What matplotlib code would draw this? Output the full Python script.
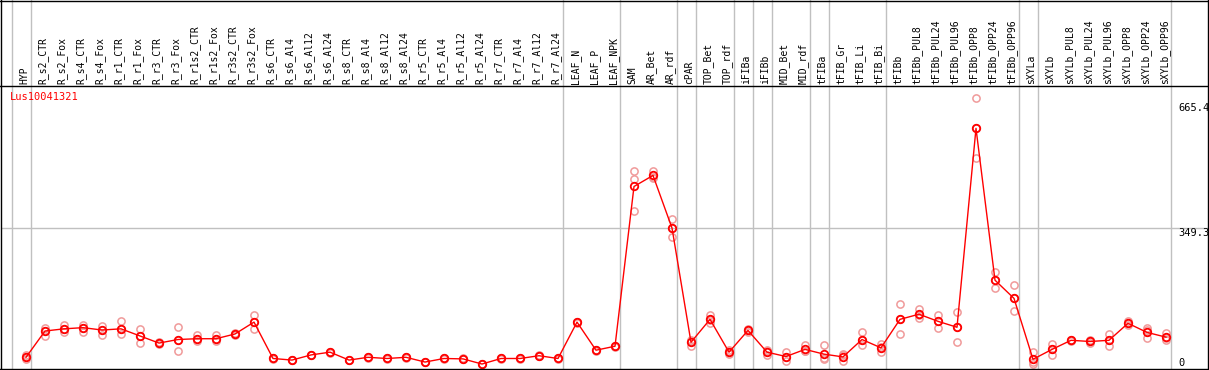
import matplotlib
matplotlib.use('Agg')
import matplotlib.pyplot as plt
from matplotlib.transforms import blended_transform_factory
from matplotlib.lines import Line2D

# ---------------- data ----------------
categories = ["HYP", "R_s2_CTR", "R_s2_Fox", "R_s4_CTR", "R_s4_Fox", "R_r1_CTR", "R_r1_Fox",
              "R_r3_CTR", "R_r3_Fox", "R_r1s2_CTR", "R_r1s2_Fox", "R_r3s2_CTR", "R_r3s2_Fox",
              "R_s6_CTR", "R_s6_Al4", "R_s6_Al12", "R_s6_Al24", "R_s8_CTR", "R_s8_Al4",
              "R_s8_Al12", "R_s8_Al24", "R_r5_CTR", "R_r5_Al4", "R_r5_Al12", "R_r5_Al24",
              "R_r7_CTR", "R_r7_Al4", "R_r7_Al12", "R_r7_Al24", "LEAF_N", "LEAF_P", "LEAF_NPK",
              "SAM", "AR_Bet", "AR_rdf", "cPAR", "TOP_Bet", "TOP_rdf", "iFIBa", "iFIBb",
              "MID_Bet", "MID_rdf", "tFIBa", "tFIB_Gr", "tFIB_Li", "tFIB_Bi", "tFIBb",
              "tFIBb_PUL8", "tFIBb_PUL24", "tFIBb_PUL96", "tFIBb_OPP8", "tFIBb_OPP24",
              "tFIBb_OPP96", "sXYLa", "sXYLb", "sXYLb_PUL8", "sXYLb_PUL24", "sXYLb_PUL96",
              "sXYLb_OPP8", "sXYLb_OPP24", "sXYLb_OPP96"]

means = [23, 89.5, 95, 98, 92, 95, 77, 59, 68, 70, 70, 82, 112,
         20, 16, 29, 36, 16, 23, 20, 23, 11, 20, 19, 6, 20, 20, 27, 20,
         112, 41, 51,
         455, 483, 350, 61, 119, 36, 91, 36, 25, 43, 31, 24, 68, 47, 119,
         132, 114, 99, 602, 218, 172,
         18, 43, 66, 63, 66, 109, 86, 74]

rep1 = [29, 98, 105, 105, 103, 114, 94, 62, 100, 79, 79, 85, 130,
        21, 17, 30, 37, 17, 24, 21, 24, 12, 21, 20, 7, 21, 21, 28, 21,
        113, 42, 52,
        493, 493, 372, 68, 129, 41, 94, 41, 37, 53, 53, 31, 86, 56, 157,
        144, 130, 137, 678, 238, 205,
        36, 56, 68, 68, 81, 114, 96, 84]

rep2 = [18, 77, 88, 88, 79, 81, 58, 56, 38, 64, 64, 79, 94,
        19, 15, 28, 35, 15, 22, 19, 22, 10, 19, 18, 5, 19, 19, 26, 19,
        111, 40, 50,
        392, 477, 328, 51, 117, 31, 88, 28, 14, 38, 18, 13, 53, 36, 81,
        122, 96, 61, 526, 198, 140,
        12, 28, 64, 58, 51, 109, 71, 66]

rep3 = [23, 90, 95, 98, 92, 95, 77, 59, 68, 70, 70, 82, 112,
        20, 16, 29, 36, 16, 23, 20, 23, 11, 20, 19, 6, 20, 20, 27, 20,
        112, 41, 51,
        473, 479, 350, 64, 111, 36, 91, 39, 25, 38, 22, 28, 66, 49, 119,
        130, 116, 99, 602, 218, 172,
        6, 45, 66, 64, 66, 104, 91, 72]

group_ends = [-1, 0, 28, 31, 34, 35, 37, 38, 39, 41, 42, 45, 52, 53, 60]
ytick_values = [0, 349.3, 665.4]
ytick_labels = ["0", "349.3", "665.4"]
gene = "Lus10041321"

# ---------------- layout ----------------
W, H = 1209, 370
fig = plt.figure(figsize=(W / 100, H / 100), dpi=100)
fig.patch.set_facecolor('white')

top_px, bot_px, left_px, right_px = 85.5, 369.0, 0.5, 1208.0
ax = fig.add_axes([left_px / W, 1 - bot_px / H, (right_px - left_px) / W, (bot_px - top_px) / H])
x0_px, dx = 26.0, 19.0
ax.set_xlim((left_px - x0_px) / dx, (right_px - x0_px) / dx)
y0_px, sy = 366.4, 0.3954
ax.set_ylim((y0_px - bot_px) / sy, (y0_px - top_px) / sy)
ax.axis('off')

mono = 'DejaVu Sans Mono'
fs = 7
grid_c = '#c0c0c0'

# frame lines
def fline(x1, y1, x2, y2):
    fig.add_artist(Line2D([x1 / W, x2 / W], [1 - y1 / H, 1 - y2 / H],
                          transform=fig.transFigure, color='black', lw=1.0, zorder=10))

fline(0, 0.5, W, 0.5)
fline(0, top_px, W, top_px)
fline(0, bot_px, W, bot_px)
fline(0.5, 0, 0.5, H)
fline(right_px, 0, right_px, H)

# vertical group separators (full height)
tr_xf = blended_transform_factory(ax.transData, fig.transFigure)
for g in group_ends:
    ax.plot([g + 0.25, g + 0.25], [0, 1], transform=tr_xf, color=grid_c, lw=1.0,
            clip_on=False, zorder=1)

# horizontal grid line
ax.axhline(ytick_values[1], color=grid_c, lw=1.0, zorder=1)

# category labels
for i, c in enumerate(categories):
    ax.text(i - 0.1, 1 - 84.0 / H, c, transform=tr_xf, rotation=90, ha='center', va='bottom',
            fontsize=fs, family=mono, color='black')

# gene label
fig.text(10 / W, 1 - 97.5 / H, gene, color='red', fontsize=fs + 0.5, family=mono,
         ha='left', va='center')

# right-side value labels
tr_fy = blended_transform_factory(fig.transFigure, ax.transData)
for v, lab in zip(ytick_values, ytick_labels):
    va = 'baseline' if v == 0 else 'top'
    ax.text(1178 / W, v, lab, transform=tr_fy, ha='left', va=va, fontsize=fs + 0.5,
            family=mono, color='black', clip_on=False)

# data
xs = list(range(len(categories)))
faint = '#f09a9a'
for reps in (rep1, rep2, rep3):
    ax.plot(xs, reps, linestyle='none', marker='o', ms=5.2, mfc='none', mec=faint, mew=1.1,
            zorder=3)
ax.plot(xs, means, color='red', lw=1.0, zorder=4)
ax.plot(xs, means, linestyle='none', marker='o', ms=5.4, mfc='none', mec='red', mew=1.3,
        zorder=5)

fig.savefig('out.png', dpi=100)
